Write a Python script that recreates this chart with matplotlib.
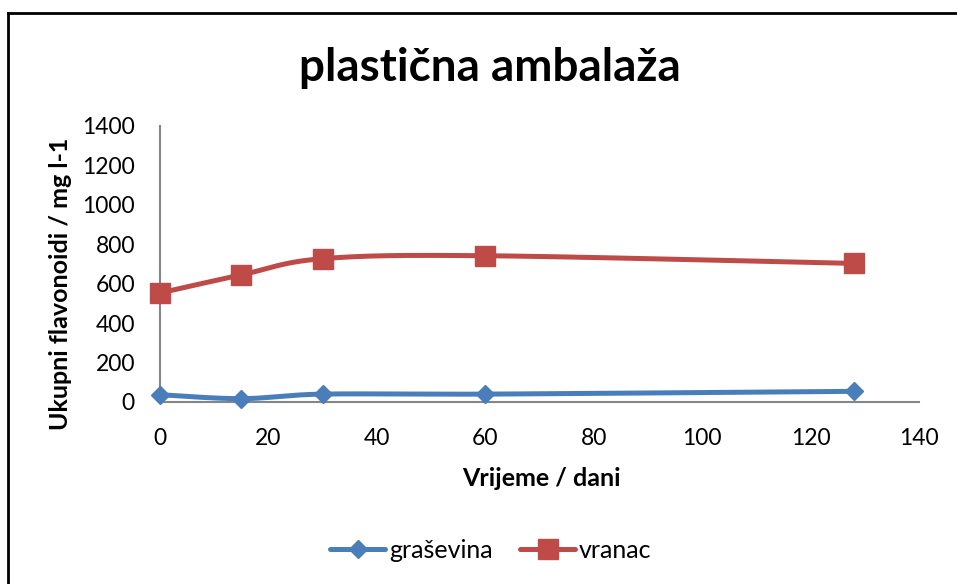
import numpy as np
import matplotlib
matplotlib.use("Agg")
import matplotlib.pyplot as plt
from matplotlib.lines import Line2D

plt.rcParams['font.family'] = ['Lato', 'DejaVu Sans']

days = [0, 15, 30, 60, 128]
grasevina = [37, 17, 40, 40, 54]
vranac = [553, 645, 727, 742, 703]
series_names = ['graševina', 'vranac']
colors = ['#4a7ebb', '#be4b48']
xticks = [0, 20, 40, 60, 80, 100, 120, 140]
yticks = [0, 200, 400, 600, 800, 1000, 1200, 1400]

W, H = 957, 584
fig = plt.figure(figsize=(W / 100, H / 100), dpi=100)
ax = fig.add_axes([160 / W, 1 - 402 / H, 759 / W, 276 / H])
ax.set_xlim(0, 140)
ax.set_ylim(0, 1400)

def smooth(xs, ys, n=40):
    # Excel-style smoothed line (Bezier with 1/6 tangent) in screen proportions
    sx, sy = 759 / 140.0, 276 / 1400.0
    P = np.column_stack([np.array(xs) * sx, np.array(ys) * sy])
    out = []
    m = len(P)
    for i in range(m - 1):
        p0 = P[i - 1] if i > 0 else P[i]
        p1, p2 = P[i], P[i + 1]
        p3 = P[i + 2] if i + 2 < m else P[i + 1]
        c1 = p1 + (p2 - p0) / 6.0
        c2 = p2 - (p3 - p1) / 6.0
        t = np.linspace(0, 1, n)[:, None]
        b = ((1 - t) ** 3) * p1 + 3 * ((1 - t) ** 2) * t * c1 + 3 * (1 - t) * t ** 2 * c2 + t ** 3 * p2
        out.append(b if i == 0 else b[1:])
    B = np.vstack(out)
    return B[:, 0] / sx, B[:, 1] / sy

for ys, c, mk, ms in [(grasevina, colors[0], 'D', 9.2),
                      (vranac, colors[1], 's', 14.4)]:
    sxs, sys_ = smooth(days, ys)
    ax.plot(sxs, sys_, color=c, lw=3.6, solid_capstyle='round', zorder=3, clip_on=False)
    ax.plot(days, ys, ls='none', marker=mk, ms=ms, color=c, mec=c, zorder=4, clip_on=False)

ax.set_xticks(xticks)
ax.set_yticks(yticks)
ax.tick_params(axis='x', length=0, labelsize=16.5, pad=19)
ax.tick_params(axis='y', length=0, labelsize=16.5, pad=18)
for s in ['top', 'right']:
    ax.spines[s].set_visible(False)
for s in ['left', 'bottom']:
    ax.spines[s].set_color('#868686')
    ax.spines[s].set_linewidth(1.5)

ax.set_xlabel('Vrijeme / dani', fontsize=18, fontweight='bold', va='center')
ax.xaxis.set_label_coords(0.502, (402 - 478) / 276)
ax.set_ylabel('Ukupni flavonoidi / mg l-1', fontsize=18, fontweight='bold', va='center')
ax.yaxis.set_label_coords((61 - 160) / 759, (402 - 284) / 276)

fig.text(490 / W, 1 - 68 / H, 'plastična ambalaža', ha='center', va='center',
         fontsize=33, fontweight='bold')

handles = [Line2D([], [], color=colors[0], lw=3.6, marker='D', ms=9.2, solid_capstyle='round'),
           Line2D([], [], color=colors[1], lw=3.6, marker='s', ms=14.4, solid_capstyle='round')]
fig.legend(handles, series_names, loc='center', bbox_to_anchor=(491 / W, 1 - 550 / H),
           ncol=2, frameon=False, fontsize=18, handlelength=2.2, handletextpad=0.15,
           columnspacing=1.1)

# chart frame: only top and left edges visible in the crop
fig.add_artist(Line2D([8 / W, 1.0], [1 - 13 / H, 1 - 13 / H], transform=fig.transFigure,
                      color='black', lw=2, solid_capstyle='projecting'))
fig.add_artist(Line2D([8 / W, 8 / W], [0, 1 - 13 / H], transform=fig.transFigure,
                      color='black', lw=2, solid_capstyle='projecting'))

fig.savefig('out.png', dpi=100)
